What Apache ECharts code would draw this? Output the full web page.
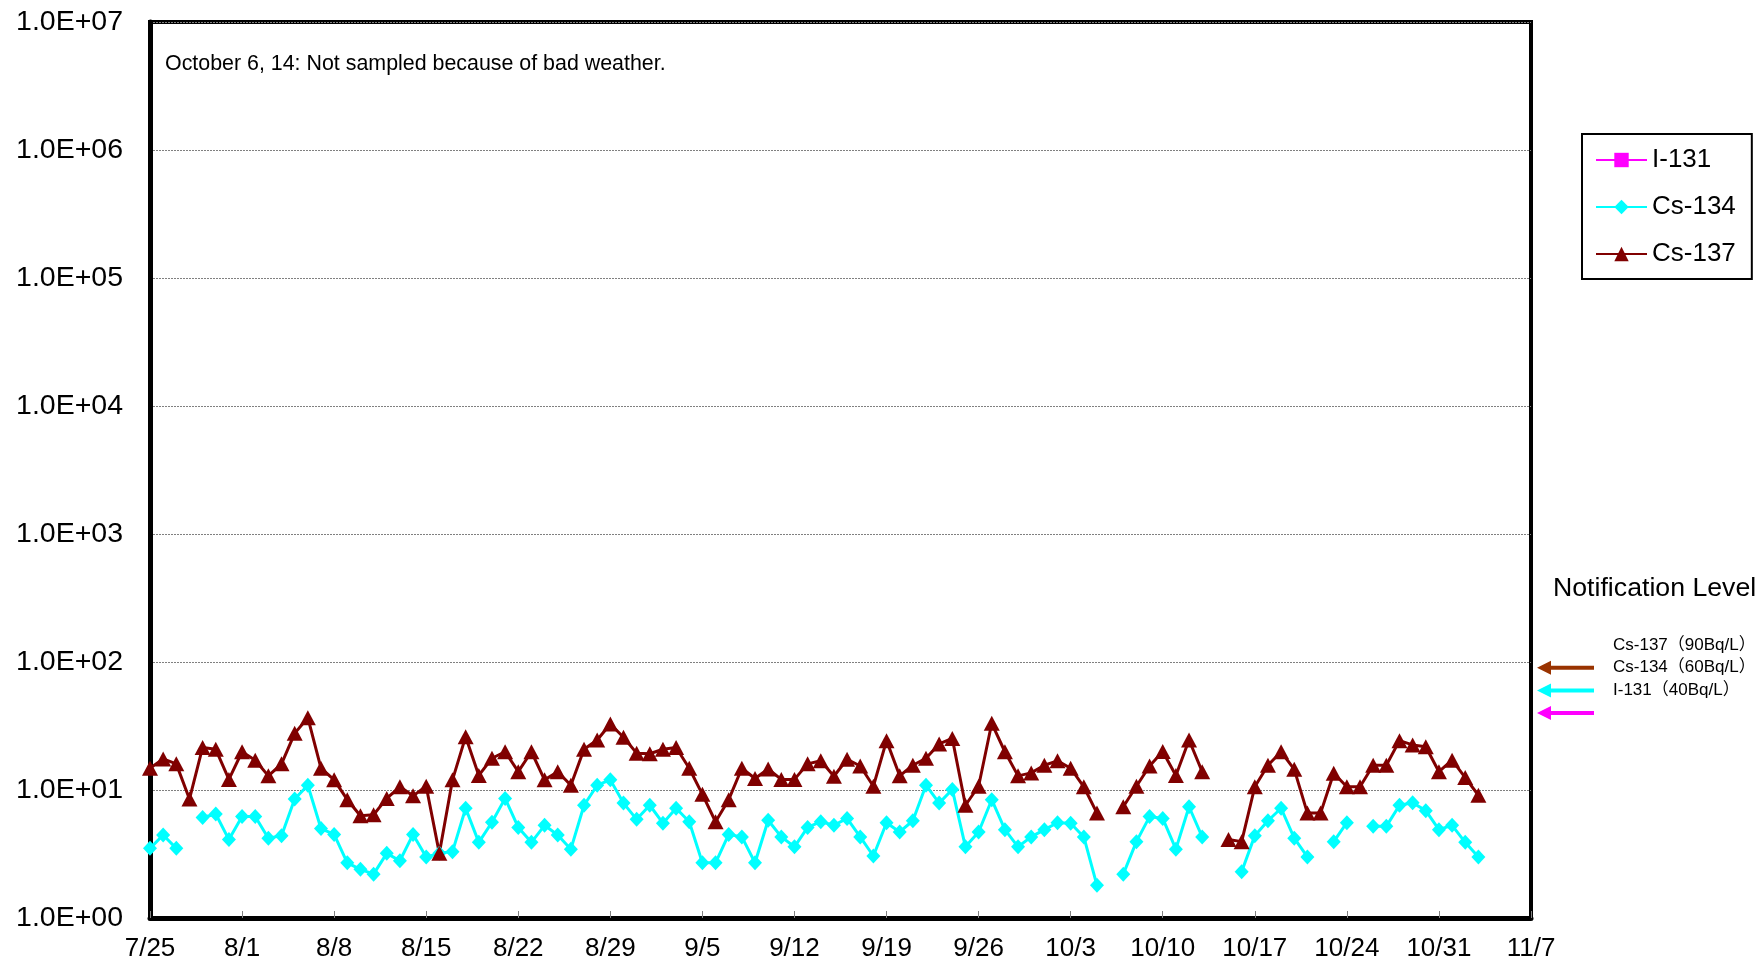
<!DOCTYPE html>
<html>
<head>
<meta charset="utf-8">
<script src="https://cdn.jsdelivr.net/npm/echarts@6/dist/echarts.min.js"></script>
<style>
html,body{margin:0;padding:0;background:#fff;}
#chart{width:1762px;height:966px;}
</style>
</head>
<body>
<div id="chart"></div>
<script>
// ---- data ----
const categories = [
 '7/25','7/26','7/27','7/28','7/29','7/30','7/31',
 '8/1','8/2','8/3','8/4','8/5','8/6','8/7',
 '8/8','8/9','8/10','8/11','8/12','8/13','8/14',
 '8/15','8/16','8/17','8/18','8/19','8/20','8/21',
 '8/22','8/23','8/24','8/25','8/26','8/27','8/28',
 '8/29','8/30','8/31','9/1','9/2','9/3','9/4',
 '9/5','9/6','9/7','9/8','9/9','9/10','9/11',
 '9/12','9/13','9/14','9/15','9/16','9/17','9/18',
 '9/19','9/20','9/21','9/22','9/23','9/24','9/25',
 '9/26','9/27','9/28','9/29','9/30','10/1','10/2',
 '10/3','10/4','10/5','10/6','10/7','10/8','10/9',
 '10/10','10/11','10/12','10/13','10/14','10/15','10/16',
 '10/17','10/18','10/19','10/20','10/21','10/22','10/23',
 '10/24','10/25','10/26','10/27','10/28','10/29','10/30',
 '10/31','11/1','11/2','11/3','11/4','11/5','11/6',
 '11/7'
];

const i131 = [];

const cs134 = [
 3.5,4.45,3.5,null,6.1,6.5,4.1,
 6.2,6.2,4.2,4.4,8.5,10.9,5.0,
 4.5,2.7,2.4,2.2,3.2,2.8,4.5,
 3.0,3.2,3.3,7.2,3.9,5.6,8.6,
 5.1,3.9,5.3,4.45,3.45,7.6,10.9,
 12.0,7.9,5.9,7.6,5.5,7.2,5.65,
 2.7,2.7,4.5,4.3,2.7,5.8,4.3,
 3.6,5.1,5.65,5.3,6.0,4.3,3.05,
 5.55,4.7,5.75,10.9,7.9,10.1,3.6,
 4.7,8.4,4.9,3.6,4.3,4.9,5.55,
 5.5,4.3,1.8,null,2.2,3.95,6.2,
 6.0,3.45,7.4,4.3,null,null,2.3,
 4.4,5.75,7.2,4.2,3.0,null,3.95,
 5.55,null,5.2,5.2,7.6,7.95,6.9,
 4.9,5.3,3.9,3.0,null,null,null,
 null
];

const cs137 = [
 14.8,17.5,16.0,8.5,21.5,20.8,12.1,
 19.9,17.1,12.9,16.0,27.7,36.7,14.8,
 12.0,8.4,6.3,6.4,8.6,10.6,9.0,
 10.7,3.2,12.0,26.1,13.0,17.7,19.9,
 13.9,19.9,12.0,13.9,10.9,20.8,24.6,
 32.8,25.8,19.4,19.2,20.8,21.5,14.8,
 9.25,5.65,8.4,14.8,12.3,14.6,12.1,
 12.1,16.0,16.9,12.8,17.4,15.4,10.7,
 24.3,12.9,15.6,17.7,22.9,25.3,7.6,
 10.7,33.2,19.9,12.9,13.6,15.6,16.9,
 14.8,10.6,6.6,null,7.4,10.7,15.4,
 20.0,13.0,24.6,13.9,null,4.1,3.95,
 10.6,15.6,19.9,14.5,6.6,6.6,13.5,
 10.6,10.6,15.6,15.6,24.3,22.5,21.8,
 13.9,17.1,12.5,9.1,null,null,null,
 null
];

const yTickLabels = ['1.0E+00','1.0E+01','1.0E+02','1.0E+03','1.0E+04','1.0E+05','1.0E+06','1.0E+07'];

const notifLevels = [90, 60, 40];
const notifLabels = ['Cs-137（90Bq/L）', 'Cs-134（60Bq/L）', 'I-131（40Bq/L）'];
const notifColors = ['#993300', '#00FFFF', '#FF00FF'];

const noteText = 'October 6, 14: Not sampled because of bad weather.';

// ---- chart ----
const FONT = '"Liberation Sans", Arial, "Noto Sans CJK JP", sans-serif';
const chart = echarts.init(document.getElementById('chart'), null, {renderer: 'canvas'});

const option = {
  animation: false,
  backgroundColor: '#ffffff',
  textStyle: {fontFamily: FONT},
  grid: {
    left: 150, right: 231, top: 22, bottom: 48,
    show: true, borderColor: '#000', borderWidth: 4, backgroundColor: 'transparent'
  },
  legend: {
    orient: 'vertical',
    left: 1582, top: 134,
    padding: [12, 16, 11, 13],
    itemGap: 19,
    itemWidth: 51, itemHeight: 18,
    borderColor: '#000', borderWidth: 2,
    backgroundColor: '#fff',
    textStyle: {fontSize: 26, color: '#000', fontFamily: FONT, lineHeight: 28, padding: [0,0,0,0]},
    data: ['I-131', 'Cs-134', 'Cs-137']
  },
  xAxis: {
    type: 'category',
    data: categories,
    boundaryGap: false,
    axisLine: {lineStyle: {color: '#000', width: 5}},
    axisTick: {show: true, inside: true, interval: 6, length: 7, lineStyle: {color: '#808080', width: 1}},
    axisLabel: {interval: 6, fontSize: 26, color: '#000', margin: 18, fontFamily: FONT},
    splitLine: {show: false}
  },
  yAxis: {
    type: 'log',
    logBase: 10,
    min: 1, max: 10000000,
    splitNumber: 7,
    axisLine: {show: true, lineStyle: {color: '#000', width: 5}},
    axisTick: {show: false},
    axisLabel: {
      fontSize: 28.5, color: '#000', margin: 27, fontFamily: FONT,
      formatter: function (v) { return yTickLabels[Math.round(Math.log10(v))]; }
    },
    splitLine: {show: true, lineStyle: {color: '#808080', width: 1, type: [2, 1]}},
    minorSplitLine: {show: false}
  },
  series: [
    {
      name: 'I-131', type: 'line', data: i131,
      symbol: 'rect', symbolSize: 13,
      showAllSymbol: true,
      itemStyle: {color: '#FF00FF'},
      lineStyle: {color: '#FF00FF', width: 2.5}
    },
    {
      name: 'Cs-134', type: 'line', data: cs134,
      symbol: 'diamond', symbolSize: [14, 15],
      showSymbol: true, showAllSymbol: true,
      itemStyle: {color: '#00FFFF'},
      lineStyle: {color: '#00FFFF', width: 3},
      connectNulls: false
    },
    {
      name: 'Cs-137', type: 'line', data: cs137,
      symbol: 'triangle', symbolSize: [16, 15],
      showSymbol: true, showAllSymbol: true,
      itemStyle: {color: '#800000'},
      lineStyle: {color: '#800000', width: 3},
      connectNulls: false
    }
  ]
};
chart.setOption(option);

// ---- annotations positioned through the axis scale ----
const graphics = [];
graphics.push({
  type: 'text', left: 165, top: 53,
  style: {text: noteText, fontSize: 21.4, fill: '#000', fontFamily: FONT}
});
graphics.push({
  type: 'text', left: 1553, top: 575,
  style: {text: 'Notification Level', fontSize: 26.7, fill: '#000', fontFamily: FONT}
});
notifLevels.forEach(function (lv, i) {
  const y = chart.convertToPixel({yAxisIndex: 0}, lv);
  graphics.push({
    type: 'line',
    shape: {x1: 1549, y1: y, x2: 1594, y2: y},
    style: {stroke: notifColors[i], lineWidth: 4}
  });
  graphics.push({
    type: 'polygon',
    shape: {points: [[1537, y], [1551, y - 7], [1551, y + 7]]},
    style: {fill: notifColors[i]}
  });
  graphics.push({
    type: 'text', x: 1613, y: y - 23,
    style: {text: notifLabels[i], fontSize: 17, fill: '#000', fontFamily: FONT, verticalAlign: 'middle', align: 'left'}
  });
});
chart.setOption({graphic: graphics});
</script>
</body>
</html>
